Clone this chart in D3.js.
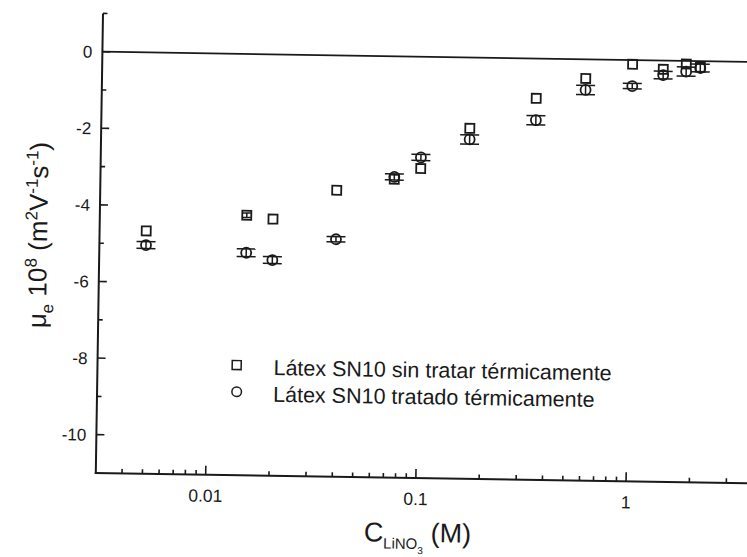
<!DOCTYPE html>
<html>
<head>
<meta charset="utf-8">
<script src="https://cdn.jsdelivr.net/npm/d3@7"></script>
<style>
  html, body { margin: 0; padding: 0; background: #fff; }
  svg { display: block; }
  text { font-family: Arial, "Liberation Sans", sans-serif; fill: #1a1a1a; }
</style>
</head>
<body>
<svg id="chart" width="747" height="557"></svg>
<script>
// LiNO3 concentration (M)
const concentration = [0.005, 0.015, 0.02, 0.04, 0.075, 0.1, 0.17, 0.35, 0.6, 1.0, 1.4, 1.8, 2.1];
// electrophoretic mobility x 10^8 (m^2 V^-1 s^-1)
const untreated      = [-4.66, -4.21, -4.30, -3.52, -3.21, -2.92, -1.85, -1.04, -0.50, -0.11, -0.23, -0.08, -0.16];
const untreatedError = [0, 0.06, 0, 0, 0, 0, 0, 0, 0, 0, 0, 0, 0];
const treated        = [-5.03, -5.19, -5.37, -4.80, -3.15, -2.63, -2.14, -1.61, -0.80, -0.68, -0.38, -0.28, -0.18];
const treatedError   = [0.09, 0.10, 0.09, 0.07, 0.08, 0.08, 0.12, 0.12, 0.12, 0.07, 0.10, 0.12, 0.10];

const xMajorTicks = [0.01, 0.1, 1];
const xTickLabels = ["0.01", "0.1", "1"];
const yMajorTicks = [0, -2, -4, -6, -8, -10];
const yMinorTicks = [1, -1, -3, -5, -7, -9];
const seriesNames = ["Látex SN10 sin tratar térmicamente", "Látex SN10 tratado térmicamente"];

const ink = "#1a1a1a";
const svg = d3.select("#chart");

// the whole figure sits slightly tilted
const pivot = [102, 51.7];
const g = svg.append("g")
  .attr("transform", `rotate(0.9, ${pivot[0]}, ${pivot[1]})`);

const x = d3.scaleLog().domain([0.003, 4]).range([102.4, 759.3]);
const y = d3.scaleLinear().domain([-11, 1]).range([473, 13.4]);

const x0 = x(0.003), yBottom = y(-11), yTop = y(1);

// axis lines
g.append("line").attr("x1", x0 - 1).attr("x2", x(4)).attr("y1", yBottom).attr("y2", yBottom)
  .attr("stroke", ink).attr("stroke-width", 2);
g.append("line").attr("x1", x0).attr("x2", x0).attr("y1", yBottom + 1).attr("y2", yTop)
  .attr("stroke", ink).attr("stroke-width", 2);
// zero reference line
g.append("line").attr("x1", x0).attr("x2", x(4)).attr("y1", y(0)).attr("y2", y(0))
  .attr("stroke", ink).attr("stroke-width", 1.8);

// y ticks (inward)
g.selectAll(".ymaj").data(yMajorTicks).join("line")
  .attr("x1", x0).attr("x2", x0 + 8).attr("y1", d => y(d)).attr("y2", d => y(d))
  .attr("stroke", ink).attr("stroke-width", 1.6);
g.selectAll(".ymin").data(yMinorTicks).join("line")
  .attr("x1", x0).attr("x2", x0 + 4.5).attr("y1", d => y(d)).attr("y2", d => y(d))
  .attr("stroke", ink).attr("stroke-width", 1.6);
g.selectAll(".ylab").data(yMajorTicks).join("text")
  .attr("x", x0 - 10).attr("y", d => y(d)).attr("dy", "0.36em")
  .attr("text-anchor", "end").attr("font-size", 17)
  .text(d => d3.format("d")(d).replace("−", "-"));

// x ticks (inward), log decades with minor ticks
const xMinor = [];
[0.001, 0.01, 0.1, 1].forEach(dec => {
  for (let k = 2; k <= 9; k++) {
    const v = dec * k;
    if (v > 0.003 && v < 4) xMinor.push(v);
  }
});
g.selectAll(".xmin").data(xMinor).join("line")
  .attr("x1", d => x(d)).attr("x2", d => x(d)).attr("y1", yBottom).attr("y2", yBottom - 4.5)
  .attr("stroke", ink).attr("stroke-width", 1.6);
g.selectAll(".xmaj").data(xMajorTicks).join("line")
  .attr("x1", d => x(d)).attr("x2", d => x(d)).attr("y1", yBottom).attr("y2", yBottom - 9)
  .attr("stroke", ink).attr("stroke-width", 1.6);
g.selectAll(".xlab").data(xMajorTicks).join("text")
  .attr("x", d => x(d)).attr("y", yBottom + 27)
  .attr("text-anchor", "middle").attr("font-size", 17.5)
  .text((d, i) => xTickLabels[i]);

// axis titles
const yt = g.append("text")
  .attr("transform", "translate(50, 236) rotate(-90)")
  .attr("text-anchor", "middle").attr("font-size", 26);
const sup = 17;
yt.append("tspan").text("\u03bc");
yt.append("tspan").attr("font-size", sup).attr("dy", 7).text("e");
yt.append("tspan").attr("dy", -7).text(" 10");
yt.append("tspan").attr("font-size", sup).attr("dy", -10).text("8");
yt.append("tspan").attr("dy", 10).text(" (m");
yt.append("tspan").attr("font-size", sup).attr("dy", -10).text("2");
yt.append("tspan").attr("dy", 10).text("V");
yt.append("tspan").attr("font-size", sup).attr("dy", -10).text("-1");
yt.append("tspan").attr("dy", 10).text("s");
yt.append("tspan").attr("font-size", sup).attr("dy", -10).text("-1");
yt.append("tspan").attr("dy", 10).text(")");

const xt = g.append("text")
  .attr("x", 425).attr("y", 537)
  .attr("text-anchor", "middle").attr("font-size", 27);
xt.append("tspan").text("C");
xt.append("tspan").attr("font-size", 15).attr("dy", 7).text("LiNO");
xt.append("tspan").attr("font-size", 10).attr("dy", 5).text("3");
xt.append("tspan").attr("dy", -12).text(" (M)");

// error bars
function errorBars(values, errors, capHalf) {
  const rows = concentration.map((c, i) => ({ c, v: values[i], e: errors[i] })).filter(d => d.e > 0);
  const eg = g.append("g").attr("stroke", ink).attr("stroke-width", 1.5);
  eg.selectAll(".v").data(rows).join("line")
    .attr("x1", d => x(d.c)).attr("x2", d => x(d.c))
    .attr("y1", d => y(d.v - d.e)).attr("y2", d => y(d.v + d.e));
  eg.selectAll(".t").data(rows).join("line")
    .attr("x1", d => x(d.c) - capHalf).attr("x2", d => x(d.c) + capHalf)
    .attr("y1", d => y(d.v + d.e)).attr("y2", d => y(d.v + d.e));
  eg.selectAll(".b").data(rows).join("line")
    .attr("x1", d => x(d.c) - capHalf).attr("x2", d => x(d.c) + capHalf)
    .attr("y1", d => y(d.v - d.e)).attr("y2", d => y(d.v - d.e));
}

// circles: heat-treated latex
errorBars(treated, treatedError, 9.5);
g.append("g").selectAll("circle").data(concentration).join("circle")
  .attr("cx", d => x(d)).attr("cy", (d, i) => y(treated[i])).attr("r", 5)
  .attr("fill", "none").attr("stroke", ink).attr("stroke-width", 1.8);

// squares: untreated latex
errorBars(untreated, untreatedError, 4);
const s = 9;
g.append("g").selectAll("rect").data(concentration).join("rect")
  .attr("x", d => x(d) - s / 2).attr("y", (d, i) => y(untreated[i]) - s / 2)
  .attr("width", s).attr("height", s)
  .attr("fill", "none").attr("stroke", ink).attr("stroke-width", 1.8);

// legend
const lg = g.append("g");
lg.append("rect").attr("x", 241.6 - 4.5).attr("y", 362.9 - 4.5).attr("width", 9).attr("height", 9)
  .attr("fill", "none").attr("stroke", ink).attr("stroke-width", 1.5);
lg.append("circle").attr("cx", 242).attr("cy", 389.6).attr("r", 4.8)
  .attr("fill", "none").attr("stroke", ink).attr("stroke-width", 1.5);
lg.selectAll("text").data(seriesNames).join("text")
  .attr("x", 278.5).attr("y", (d, i) => 372.3 + i * 26.8)
  .attr("font-size", 21.5).text(d => d);
</script>
</body>
</html>
